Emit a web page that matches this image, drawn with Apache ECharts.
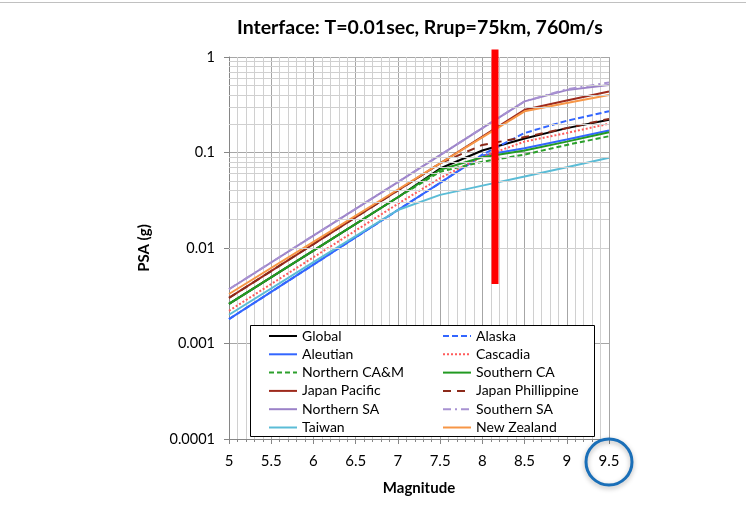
<!DOCTYPE html>
<html>
<head>
<meta charset="utf-8">
<script src="https://cdn.jsdelivr.net/npm/echarts@6/dist/echarts.min.js"></script>
<style>
  html, body { margin: 0; padding: 0; background: #fff; }
  #chart { width: 746px; height: 508px; }
</style>
</head>
<body>
<div id="chart"></div>
<script>
const magnitudes = [5, 6, 7, 7.5, 8, 8.5, 9, 9.5];

const globalPsa      = [0.0026, 0.0094, 0.034, 0.068, 0.105, 0.14, 0.18, 0.22];
const alaska         = [0.0018, 0.0067, 0.025, 0.048, 0.095, 0.16, 0.215, 0.27];
const aleutian       = [0.0018, 0.0067, 0.025, 0.048, 0.093, 0.111, 0.137, 0.17];
const cascadia       = [0.0022, 0.0080, 0.029, 0.054, 0.09, 0.13, 0.16, 0.20];
const northernCAM    = [0.0026, 0.0094, 0.034, 0.063, 0.08, 0.095, 0.12, 0.148];
const southernCA     = [0.0026, 0.0094, 0.034, 0.066, 0.089, 0.105, 0.13, 0.163];
const japanPacific   = [0.0030, 0.011, 0.040, 0.077, 0.147, 0.28, 0.35, 0.436];
const japanPhil      = [0.0030, 0.011, 0.040, 0.077, 0.12, 0.145, 0.18, 0.225];
const northernSA     = [0.0037, 0.0135, 0.049, 0.094, 0.18, 0.343, 0.45, 0.51];
const southernSA     = [0.0037, 0.0135, 0.049, 0.094, 0.18, 0.343, 0.46, 0.54];
const taiwan         = [0.0020, 0.0071, 0.025, 0.036, 0.045, 0.056, 0.07, 0.088];
const newZealand     = [0.0033, 0.0116, 0.041, 0.077, 0.144, 0.27, 0.33, 0.40];

const yTickLabels = ['0.0001', '0.001', '0.01', '0.1', '1'];
const legendLeftCol  = ['Global', 'Aleutian', 'Northern CA&M', 'Japan Pacific', 'Northern SA', 'Taiwan'];
const legendRightCol = ['Alaska', 'Cascadia', 'Southern CA', 'Japan Phillippine', 'Southern SA', 'New Zealand'];

// red marker line and the circled label
const redMarkMag = 8.15;
const redMarkLow = 0.0042;
const redMarkHigh = 1.2;
const circledMag = 9.5;

const font = 'Lato, "Open Sans", sans-serif';

const lines = [
  {name: 'Global', data: globalPsa, color: '#000000', type: 'solid'},
  {name: 'Alaska', data: alaska, color: '#3366ff', type: [6, 3]},
  {name: 'Aleutian', data: aleutian, color: '#3366ff', type: 'solid'},
  {name: 'Cascadia', data: cascadia, color: '#ff5b5b', type: [2, 2]},
  {name: 'Northern CA&M', data: northernCAM, color: '#2ca02c', type: [5, 3]},
  {name: 'Southern CA', data: southernCA, color: '#229a22', type: 'solid'},
  {name: 'Japan Pacific', data: japanPacific, color: '#9e2a1c', type: 'solid'},
  {name: 'Japan Phillippine', data: japanPhil, color: '#8c2a1a', type: [8, 6]},
  {name: 'Northern SA', data: northernSA, color: '#9b82c8', type: 'solid'},
  {name: 'Southern SA', data: southernSA, color: '#a892d2', type: [8, 4, 2, 4]},
  {name: 'Taiwan', data: taiwan, color: '#5bbcd6', type: 'solid'},
  {name: 'New Zealand', data: newZealand, color: '#f79646', type: 'solid'}
];

// minor log gridlines (2..9 within each decade)
const minorY = [];
[0.0001, 0.001, 0.01, 0.1].forEach(function (d) {
  for (let k = 2; k <= 9; k++) minorY.push({yAxis: +(k * d).toPrecision(3)});
});

const series = [{
  name: 'minorGrid',
  type: 'line',
  data: [],
  z: 1,
  silent: true,
  markLine: {
    silent: true,
    symbol: 'none',
    label: {show: false},
    lineStyle: {color: '#d0d0d0', width: 1, type: 'solid'},
    emphasis: {disabled: true},
    animation: false,
    data: minorY
  }
}];
lines.forEach(function (s) {
  series.push({
    name: s.name,
    type: 'line',
    symbol: 'none',
    z: 3,
    data: magnitudes.map(function (m, i) { return [m, s.data[i]]; }),
    lineStyle: {color: s.color, width: 2, type: s.type},
    itemStyle: {color: s.color}
  });
});

const legendBase = {
  orient: 'vertical',
  top: 324,
  itemWidth: 28,
  itemHeight: 14,
  itemGap: 4.3,
  z: 6,
  itemStyle: {opacity: 0, borderWidth: 0},
  textStyle: {fontFamily: font, fontSize: 14, color: '#000'}
};

const chart = echarts.init(document.getElementById('chart'));
chart.setOption({
  animation: false,
  backgroundColor: '#fff',
  title: {
    text: 'Interface: T=0.01sec, Rrup=75km, 760m/s',
    left: 232,
    top: 13,
    textStyle: {fontFamily: font, fontSize: 19.5, fontWeight: 'bold', color: '#000'}
  },
  grid: {left: 229, right: 137, top: 57, bottom: 69, containLabel: false},
  legend: [
    Object.assign({left: 263, data: legendLeftCol}, legendBase),
    Object.assign({left: 437, data: legendRightCol}, legendBase)
  ],
  xAxis: {
    type: 'value',
    min: 5,
    max: 9.5,
    interval: 0.5,
    name: 'Magnitude',
    nameLocation: 'middle',
    nameGap: 42,
    nameTextStyle: {fontFamily: font, fontSize: 15, fontWeight: 'bold', color: '#000'},
    axisLine: {onZero: false, lineStyle: {color: '#868686'}},
    axisTick: {show: true, length: 5, lineStyle: {color: '#868686'}},
    minorTick: {show: true, splitNumber: 5, length: 3, lineStyle: {color: '#868686'}},
    axisLabel: {fontFamily: font, fontSize: 15, color: '#000', margin: 15},
    splitLine: {show: true, lineStyle: {color: '#a6a6a6', width: 1}},
    minorSplitLine: {show: true, lineStyle: {color: '#d0d0d0', width: 1}}
  },
  yAxis: {
    type: 'log',
    logBase: 10,
    min: 0.0001,
    max: 1,
    name: 'PSA (g)',
    nameLocation: 'middle',
    nameGap: 77,
    nameRotate: 90,
    nameTextStyle: {fontFamily: font, fontSize: 15, fontWeight: 'bold', color: '#000'},
    axisLine: {show: true, lineStyle: {color: '#868686'}},
    axisTick: {show: true, length: 5, lineStyle: {color: '#868686'}},
    axisLabel: {
      fontFamily: font, fontSize: 14.5, color: '#000', margin: 14,
      formatter: function (v) {
        return yTickLabels[Math.round(Math.log10(v)) + 4];
      }
    },
    splitLine: {show: true, lineStyle: {color: '#a6a6a6', width: 1}}
  },
  series: series
});

// annotations placed through the chart's own scales
const top1 = chart.convertToPixel({gridIndex: 0}, [redMarkMag, redMarkHigh]);
const low1 = chart.convertToPixel({gridIndex: 0}, [redMarkMag, redMarkLow]);
const axisPt = chart.convertToPixel({gridIndex: 0}, [circledMag, 0.0001]);
const legendBox = {x: 250, y: 325, w: 344, h: 111};

chart.setOption({
  graphic: [
    {
      type: 'line', z: 0, silent: true,
      shape: {x1: 0, y1: 2.5, x2: 746, y2: 2.5},
      style: {stroke: '#c0c0c0', lineWidth: 1}
    },
    {
      type: 'rect', z: 5, silent: true,
      shape: {x: legendBox.x + 0.5, y: legendBox.y + 0.5, width: legendBox.w, height: legendBox.h},
      style: {fill: '#fff', stroke: '#000', lineWidth: 1}
    },
    {
      type: 'line', z: 20, silent: true,
      shape: {x1: top1[0], y1: top1[1], x2: low1[0], y2: low1[1]},
      style: {stroke: '#ff0000', lineWidth: 7}
    },
    {
      type: 'circle', z: 20, silent: true,
      shape: {cx: axisPt[0], cy: axisPt[1] + 23, r: 23},
      style: {
        fill: 'none', stroke: '#1a6fb8', lineWidth: 3,
        shadowBlur: 5, shadowColor: 'rgba(0,0,0,0.3)', shadowOffsetY: 2
      }
    }
  ]
});
</script>
</body>
</html>
